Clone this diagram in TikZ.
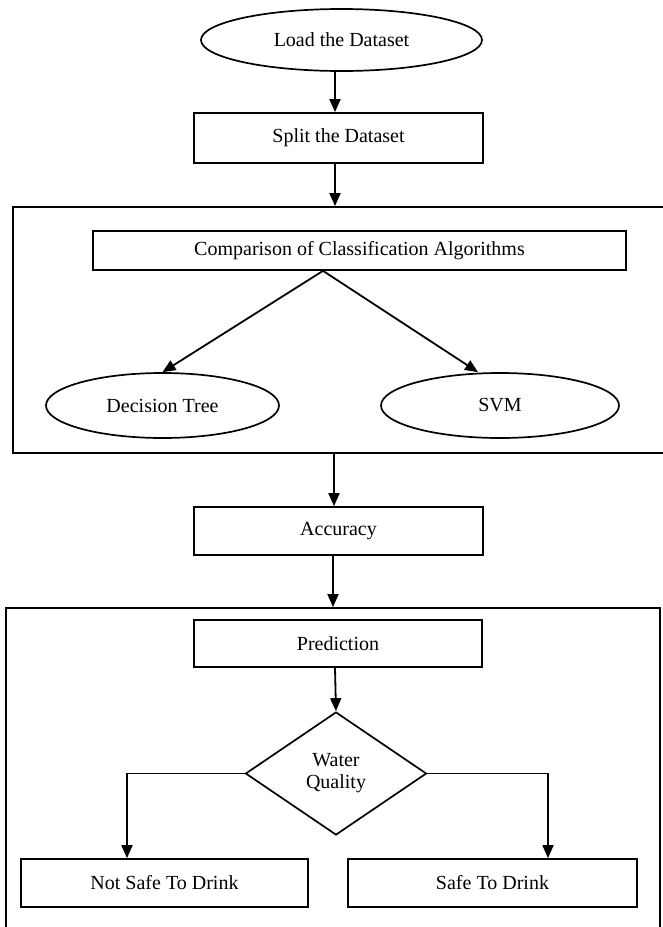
\documentclass[tikz,border=0pt]{standalone}
\usepackage{fontspec}
\setmainfont{Liberation Serif}
\usetikzlibrary{shapes.geometric,arrows.meta}
\begin{document}
\begin{tikzpicture}[x=1pt,y=-1pt,
  every node/.style={font=\fontsize{20}{23}\selectfont, inner sep=0pt},
  boxnode/.style={draw, rectangle, line width=1.7pt},
  ellnode/.style={draw, ellipse, line width=1.7pt},
  decnode/.style={draw, diamond, align=center, line width=1.7pt},
  frame/.style={draw, rectangle, line width=1.9pt},
  arr/.style={draw, line width=1.8pt, -{Triangle[length=13pt,width=11pt]}}
]
\useasboundingbox (0,0) rectangle (662,927);

% containers
\node[frame, minimum width=677pt, minimum height=246pt] (big1) at (351.5,330) {};
\node[frame, minimum width=654pt, minimum height=340pt] (big2) at (333,778) {};

% nodes
\node[ellnode, minimum width=281pt, minimum height=62pt] (load) at (341.5,40) {Load the Dataset};
\node[boxnode, minimum width=289pt, minimum height=50pt] (split) at (338.5,138) {Split the Dataset};
\node[boxnode, minimum width=533pt, minimum height=39pt] (comp) at (359.5,250.5) {Comparison of Classification Algorithms};
\node[ellnode, minimum width=233pt, minimum height=65pt] (dt) at (162.5,405.5) {Decision Tree};
\node[ellnode, minimum width=238pt, minimum height=65pt] (svm) at (500,405.5) {SVM};
\node[boxnode, minimum width=289pt, minimum height=48pt] (acc) at (338.5,531) {Accuracy};
\node[boxnode, minimum width=288pt, minimum height=47pt] (pred) at (338,643.5) {Prediction};
\node[decnode, minimum width=181pt, minimum height=123pt] (dq) at (336,773.5) {Water\\[-1pt]Quality};
\node[boxnode, minimum width=287pt, minimum height=48pt] (ns) at (164.5,883) {Not Safe To Drink};
\node[boxnode, minimum width=289pt, minimum height=48pt] (sd) at (492.5,883) {Safe To Drink};

% connectors
\draw[arr] ([xshift=-6.5pt]load.south) -- ([xshift=-3.5pt]split.north);
\draw[arr] ([xshift=-3.5pt]split.south) -- ([xshift=-3.5pt]split.south |- big1.north);
\draw[arr] ([xshift=-36.5pt]comp.south) -- (dt.north);
\draw[arr] ([xshift=-36.5pt]comp.south) -- ([xshift=-22pt]svm.north);
\draw[arr] ([xshift=-4.5pt]acc.north |- big1.south) -- ([xshift=-4.5pt]acc.north);
\draw[arr] ([xshift=-5.5pt]acc.south) -- ([xshift=-5.5pt]acc.south |- big2.north);
\draw[arr] ([xshift=-3pt]pred.south) -- (dq.north);
\draw[arr] (dq.west) -| ([xshift=-37.5pt]ns.north);
\draw[arr] (dq.east) -| ([xshift=55.5pt]sd.north);
\end{tikzpicture}
\end{document}
